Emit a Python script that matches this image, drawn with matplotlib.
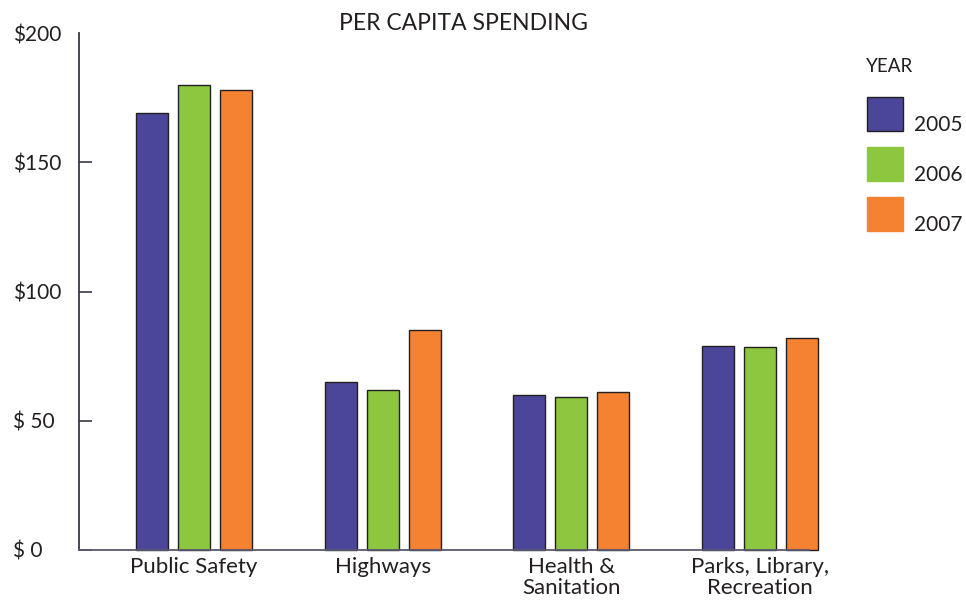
import matplotlib
matplotlib.use("Agg")
import matplotlib.pyplot as plt
from matplotlib.patches import Rectangle
import numpy as np

categories = ["Public Safety", "Highways", "Health &\nSanitation", "Parks, Library,\nRecreation"]
years = ["2005", "2006", "2007"]
spend_2005 = [169, 65, 60, 79]
spend_2006 = [180, 62, 59, 78.5]
spend_2007 = [178, 85, 61, 82]
series = [spend_2005, spend_2006, spend_2007]
yticks = [0, 50, 100, 150, 200]
ytick_labels = ["$ 0", "$ 50", "$100", "$150", "$200"]

colors = ["#4b4699", "#8dc63f", "#f58231"]
text_color = "#231f20"
font = ["Lato", "DejaVu Sans"]
plt.rcParams["font.family"] = font

W, H = 966, 601
fig = plt.figure(figsize=(W / 100, H / 100), dpi=100)
ax = fig.add_axes([79 / W, 1 - 550 / H, (809 - 79) / W, (550 - 33) / H])

x = np.arange(len(categories))
step = 0.222
width = 0.17
for i, vals in enumerate(series):
    ax.bar(x + (i - 1) * step, vals, width=width, color=colors[i],
           edgecolor="#231f20", linewidth=1.0, zorder=2, clip_on=False)

ax.set_xlim(-0.61, 3.26)
ax.set_ylim(0, 200)

for s in ["top", "right"]:
    ax.spines[s].set_visible(False)
ax.spines["left"].set_color("#3a3845")
ax.spines["left"].set_linewidth(1.3)
ax.spines["bottom"].set_color("#5a5870")
ax.spines["bottom"].set_linewidth(1.3)

ax.set_yticks(yticks)
ax.set_yticklabels(ytick_labels)
ax.tick_params(axis="y", direction="in", length=9, width=1.2, color="#3a3845",
               pad=47.5, labelsize=15, labelcolor=text_color)
for lab in ax.get_yticklabels():
    lab.set_horizontalalignment("left")
ax.yaxis.get_major_ticks()[-1].tick1line.set_visible(False)

ax.set_xticks(x)
ax.set_xticklabels(categories, linespacing=1.05)
ax.tick_params(axis="x", length=0, pad=5, labelsize=16, labelcolor=text_color)

fig.text(463 / W, 1 - 24 / H, "PER CAPITA SPENDING", ha="center", va="center",
         fontsize=16.5, color=text_color)

# legend
fig.text(866 / W, 1 - 67 / H, "YEAR", ha="left", va="center", fontsize=13.5, color=text_color)
for i, yr in enumerate(years):
    top = 97 + 50 * i
    fig.patches.append(Rectangle((867 / W, 1 - (top + 34) / H), 36 / W, 34 / H,
                                 transform=fig.transFigure, facecolor=colors[i],
                                 edgecolor="#231f20" if i == 0 else colors[i],
                                 linewidth=1.0))
    fig.text(914 / W, 1 - (top + 28) / H, yr, ha="left", va="center",
             fontsize=15, color=text_color)

fig.savefig("out.png", dpi=100)
